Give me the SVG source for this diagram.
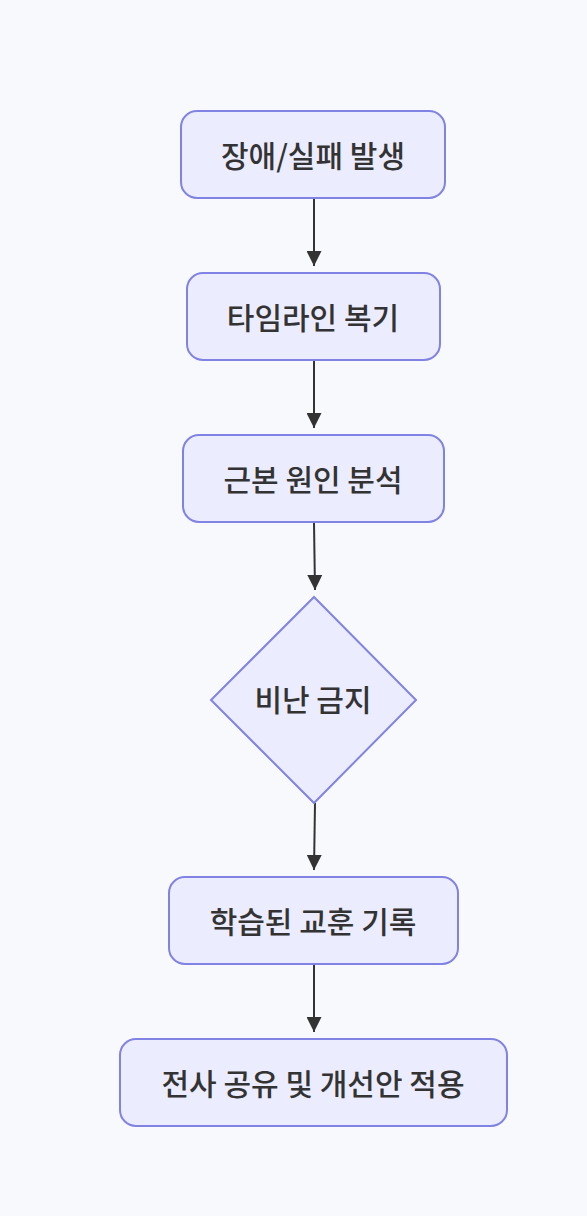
<svg xmlns="http://www.w3.org/2000/svg" width="587" height="1216" viewBox="0 0 587 1216">
<style>
.n{fill:#ECECFF;stroke:#8183E4;stroke-width:2}
.t{font-family:"Noto Sans CJK KR","Noto Sans",sans-serif;font-size:30px;font-weight:500;fill:#333;text-anchor:middle;dominant-baseline:central}
.e{stroke:#333;stroke-width:2;fill:none}
</style>
<defs>
<marker id="a" viewBox="0 0 12 12" refX="12" refY="6" markerWidth="15" markerHeight="15" markerUnits="userSpaceOnUse" orient="auto">
<path d="M0,0 L12,6 L0,12 z" fill="#333"/>
</marker>
</defs>
<rect width="587" height="1216" fill="#F8F9FC"/>
<g id="edges">
<path class="e" d="M314,199 L314,266" marker-end="url(#a)"/>
<path class="e" d="M314,361 L314,428" marker-end="url(#a)"/>
<path class="e" d="M314,523 L315,590" marker-end="url(#a)"/>
<path class="e" d="M315,803 L314,870" marker-end="url(#a)"/>
<path class="e" d="M314,965 L314,1032" marker-end="url(#a)"/>
</g>
<g id="n1">
<rect class="n" x="181" y="111" width="264" height="87" rx="16"/>
<text class="t" x="313" y="154">장애/실패 발생</text>
</g>
<g id="n2">
<rect class="n" x="187" y="273" width="253" height="87" rx="16"/>
<text class="t" x="313" y="316">타임라인 복기</text>
</g>
<g id="n3">
<rect class="n" x="183" y="435" width="261" height="87" rx="16"/>
<text class="t" x="313" y="478">근본 원인 분석</text>
</g>
<g id="n4">
<polygon class="n" points="314,597 416,700 314,803 211,700"/>
<text class="t" x="313" y="698">비난 금지</text>
</g>
<g id="n5">
<rect class="n" x="169" y="877" width="289" height="87" rx="16"/>
<text class="t" x="313" y="920">학습된 교훈 기록</text>
</g>
<g id="n6">
<rect class="n" x="120" y="1039" width="387" height="87" rx="16"/>
<text class="t" x="313" y="1082">전사 공유 및 개선안 적용</text>
</g>
</svg>
